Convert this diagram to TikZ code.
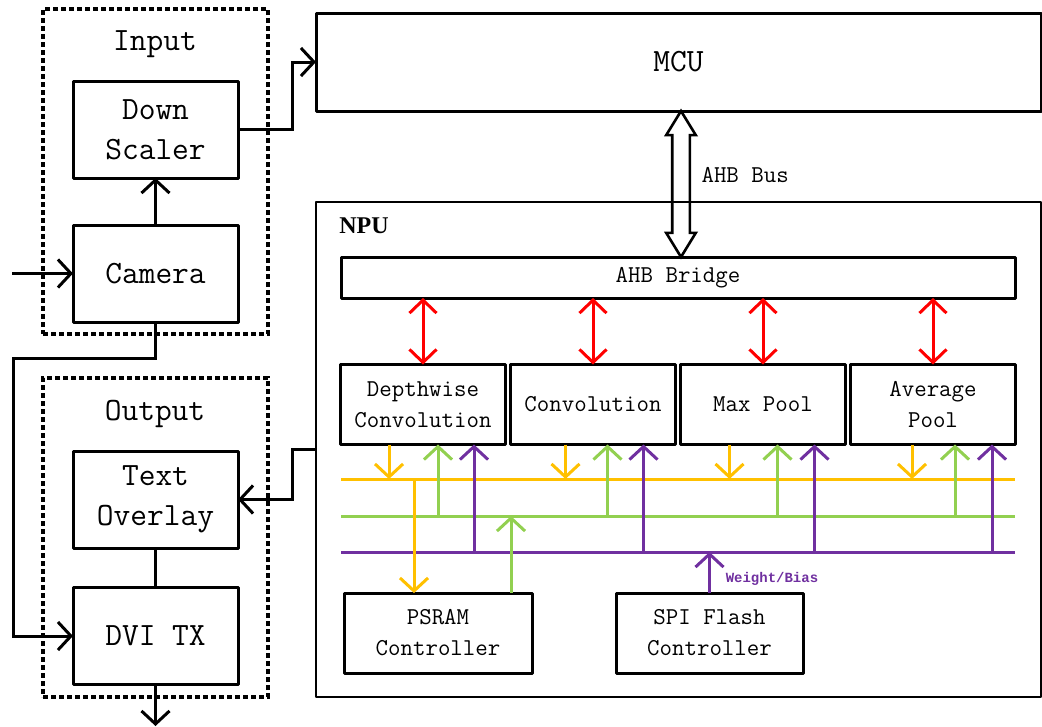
\documentclass[tikz,border=0pt]{standalone}
\usepackage{fontspec}
\newfontfamily\npufont{Liberation Serif}
\newfontfamily\wbfont{Liberation Mono}
\usetikzlibrary{positioning,arrows.meta,calc,shapes.arrows}
\definecolor{busyellow}{HTML}{FFC000}
\definecolor{busgreen}{HTML}{92D050}
\definecolor{buspurple}{HTML}{7030A0}

\begin{document}
\begin{tikzpicture}[
  x=1pt, y=-1pt,
  node distance=5.5pt,
  big/.style={font=\ttfamily\fontsize{32.5}{40}\selectfont},
  mid/.style={font=\ttfamily\fontsize{24.2}{31}\selectfont},
  blk/.style={draw, line width=3pt, line join=round, inner sep=0pt,
              outer sep=0pt, align=center},
  io/.style={blk, big, minimum width=165pt, minimum height=97pt},
  mod/.style={blk, mid, minimum width=164.5pt, minimum height=80pt},
  ctl/.style={blk, mid, minimum width=188pt, minimum height=80pt},
  grp/.style={draw, line width=3.4pt, dash pattern=on 5pt off 3pt,
              inner sep=0pt, outer sep=0pt},
  hollow/.style={double arrow, draw, line width=2.6pt, rotate=90,
                 inner xsep=0pt, inner ysep=7.5pt,
                 minimum height=146pt, minimum width=27pt,
                 double arrow head extend=6pt, double arrow tip angle=63},
  arr/.style={-{Straight Barb[length=13pt,width=28pt]}, line width=3pt},
  rarr/.style={{Straight Barb[length=13pt,width=27pt]}-{Straight Barb[length=13pt,width=27pt]},
               red, line width=3pt},
  yarr/.style={arr, busyellow},
  garr/.style={arr, busgreen},
  parr/.style={arr, buspurple},
  bus/.style={line width=3pt}
]
\useasboundingbox (0,0) rectangle (1042,726);
% input / output groups
\node[grp, minimum width=225pt, minimum height=325pt] (inbox) at (155.5,171.5) {};
\node[big] (inlbl) at (155,44) {Input};
\node[io] (down) at (155.5,129.5) {Down\\Scaler};
\node[io] (cam)  at (155.5,273.5) {Camera};
\node[grp, minimum width=225pt, minimum height=319pt] (outbox) at (155.5,537.5) {};
\node[big] (outlbl) at (155,414) {Output};
\node[io] (txt) at (155.5,499.5) {Text\\Overlay};
\node[io] (dvi) at (155.5,636) {DVI TX};
% MCU and NPU
\node[blk, big, minimum width=725pt, minimum height=98pt] (mcu) at (678.5,62) {MCU};
\node[blk, line width=2.6pt, minimum width=725pt, minimum height=495pt] (npu) at (678.5,449.5) {};
\node[font=\npufont\bfseries\fontsize{24}{26}\selectfont] (npulbl) at (364,226) {NPU};
\node[blk, mid, minimum width=674pt, minimum height=41pt] (bridge) at (678,277.5) {AHB Bridge};
\node[hollow] (ahb) at (681,184) {};
\node[mid, anchor=west] (buslbl) at (698,175) {AHB Bus};
\node[mod] (dw) at (423,404.5) {Depthwise\\Convolution};
\node[mod, right=of dw]   (conv) {Convolution};
\node[mod, right=of conv] (maxp) {Max Pool};
\node[mod, right=of maxp] (avgp) {Average\\Pool};
\node[ctl] (psram) at (438,633) {PSRAM\\Controller};
\node[ctl, minimum width=187pt] (spi) at (709.5,633) {SPI Flash\\Controller};
\node[font=\wbfont\bfseries\fontsize{14}{16}\selectfont, text=buspurple] (wblbl) at (772,579) {Weight/Bias};
% buses
\coordinate (yl) at (341,479); \coordinate (yr) at (1015,479);
\coordinate (gl) at (341,516); \coordinate (gr) at (1015,516);
\coordinate (pl) at (341,552); \coordinate (pr) at (1015,552);
\draw[bus, busyellow] (yl) -- (yr);
\draw[bus, busgreen]  (gl) -- (gr);
\draw[bus, buspurple] (pl) -- (pr);
% bridge links
\draw[rarr] (dw.north |- bridge.south)   -- (dw.north);
\draw[rarr] (conv.north |- bridge.south) -- (conv.north);
\draw[rarr] (maxp.north |- bridge.south) -- (maxp.north);
\draw[rarr] (avgp.north |- bridge.south) -- (avgp.north);
% module links
\draw[yarr] ([xshift=-34pt]dw.south) -- ([xshift=-34pt]dw.south |- yl);
\draw[garr] ([xshift=15pt]dw.south |- gl) -- ([xshift=15pt]dw.south);
\draw[parr] ([xshift=51pt]dw.south |- pl) -- ([xshift=51pt]dw.south);
\draw[yarr] ([xshift=-27.5pt]conv.south) -- ([xshift=-27.5pt]conv.south |- yl);
\draw[garr] ([xshift=14.5pt]conv.south |- gl) -- ([xshift=14.5pt]conv.south);
\draw[parr] ([xshift=50.5pt]conv.south |- pl) -- ([xshift=50.5pt]conv.south);
\draw[yarr] ([xshift=-33.5pt]maxp.south) -- ([xshift=-33.5pt]maxp.south |- yl);
\draw[garr] ([xshift=14.5pt]maxp.south |- gl) -- ([xshift=14.5pt]maxp.south);
\draw[parr] ([xshift=51.5pt]maxp.south |- pl) -- ([xshift=51.5pt]maxp.south);
\draw[yarr] ([xshift=-21pt]avgp.south) -- ([xshift=-21pt]avgp.south |- yl);
\draw[garr] ([xshift=22pt]avgp.south |- gl) -- ([xshift=22pt]avgp.south);
\draw[parr] ([xshift=59pt]avgp.south |- pl) -- ([xshift=59pt]avgp.south);
% memory links
\draw[yarr] ([xshift=-24pt]psram.north |- yl) -- ([xshift=-24pt]psram.north);
\draw[garr] ([xshift=73pt]psram.north) -- ([xshift=73pt]psram.north |- gl);
\draw[parr] (spi.north) -- (spi.north |- pl);
% video path
\coordinate (camin) at (12,273.5);
\coordinate (dvilp) at (13,358);
\coordinate (dviout) at (155.5,726);
\draw[arr] (camin) -- (cam.west);
\draw[arr] (cam) -- (down);
\draw[arr] (down.east) -- ++(54,0) |- (mcu.west);
\draw[arr] (cam.south) |- (dvilp) |- (dvi.west);
\draw[arr] (npu.west) -- ++(-24,0) |- (txt.east);
\draw[line width=3pt] (txt) -- (dvi);
\draw[arr] (dvi.south) -- (dviout);
\end{tikzpicture}
\end{document}
